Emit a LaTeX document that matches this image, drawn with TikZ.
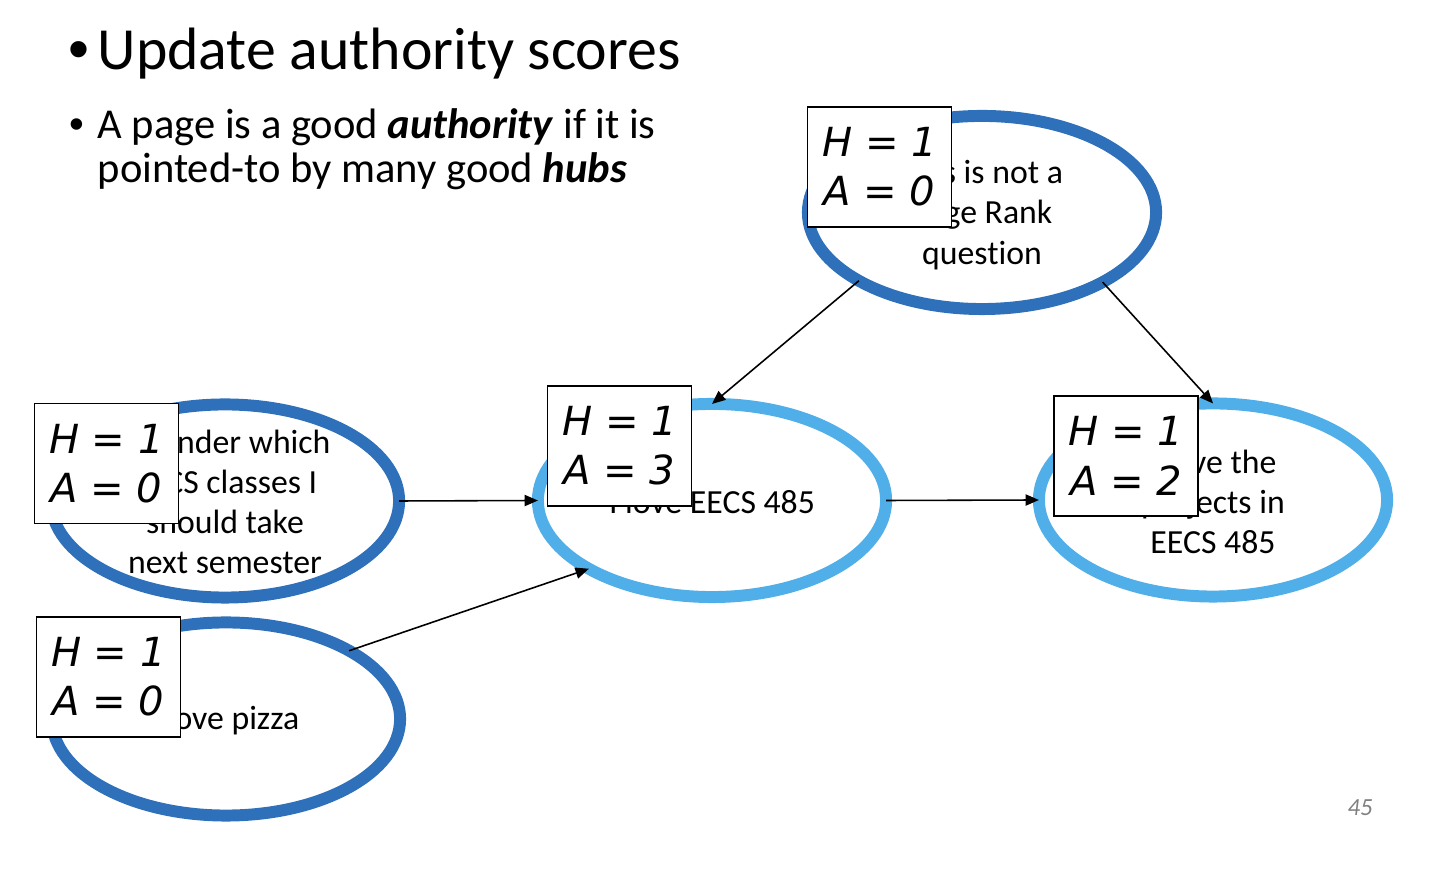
\documentclass[tikz,border=0pt]{standalone}
\usepackage{fontspec}
\setmainfont{Carlito}[Ligatures=NoCommon]
\newfontfamily\scorefont{DejaVu Sans}
\newfontfamily\bulletfont{Liberation Sans}
\usetikzlibrary{shapes.geometric,arrows.meta}
\definecolor{hubblue}{RGB}{46,112,186}
\definecolor{authblue}{RGB}{80,174,232}
\definecolor{pagegray}{RGB}{128,128,128}
\begin{document}
\begin{tikzpicture}[x=0.01cm,y=-0.01cm,
  page/.style={ellipse, minimum width=3.48cm, minimum height=1.93cm,
    inner sep=0pt, outer sep=0pt, line width=3.4pt},
  hubpage/.style={page, draw=hubblue},
  authpage/.style={page, draw=authblue},
  pagetext/.style={align=center, inner sep=0pt,
    font=\fontsize{9.6}{11.4}\selectfont},
  score/.style={draw=black, line width=0.45pt, fill=white,
    minimum width=1.44cm, minimum height=1.2cm, inner sep=0pt,
    align=center, font=\scorefont\itshape\fontsize{11.4}{14}\selectfont},
  link/.style={line width=0.45pt, -{Triangle[length=3.8pt,width=3.2pt]}},
  bulletmark/.style={anchor=base, inner sep=0pt, font=\bulletfont#1},
  linetext/.style={anchor=base west, inner sep=0pt, font=#1}
]
\useasboundingbox (0,0) rectangle (1452,874);

% heading and bullet text
\node[bulletmark={\fontsize{17}{20}\selectfont}] (b1) at (79,70) {•};
\node[linetext={\fontsize{17}{20}\selectfont}] (title) at (97,70) {Update authority scores};
\node[bulletmark={\fontsize{12}{14}\selectfont}] (b2) at (77,139) {•};
\node[linetext={\fontsize{12.1}{14}\selectfont}] (l1) at (97,139)
  {A page is a good \textbf{\textit{authority}} if it is};
\node[linetext={\fontsize{12.1}{14}\selectfont}] (l2) at (97,183)
  {pointed-to by many good \textbf{\textit{hubs}}};

% pages
\node[hubpage]  (q) at (982,212.5) {};
\node[hubpage]  (w) at (225,501) {};
\node[authpage] (l) at (712,500.5) {};
\node[authpage] (p) at (1213,500) {};
\node[hubpage]  (z) at (226,719) {};

\node[pagetext] (qt) at (982,215) {This is not a\\Page Rank\\question};
\node[pagetext] (wt) at (225,502) {I wonder which\\EECS classes I\\should take\\next semester};
\node[pagetext] (lt) at (712,502) {I love EECS 485};
\node[pagetext] (pt) at (1213,502) {I love the\\projects in\\EECS 485};
\node[pagetext] (zt) at (225,721) {I love pizza};

% hub / authority scores
\node[score] (qs) at (879.5,167) {H = 1\\A = 0};
\node[score] (ws) at (106.5,463.5) {H = 1\\A = 0};
\node[score] (ls) at (619.5,446) {H = 1\\A = 3};
\node[score] (ps) at (1126,456) {H = 1\\A = 2};
\node[score] (zs) at (108.5,677) {H = 1\\A = 0};

% links
\draw[link] (q.209.6) -- (l.north);
\draw[link] (q.330.2) -- (p.north);
\draw[link] (w.east) -- (l.west);
\draw[link] (l.east) -- (p.west);
\draw[link] (z.29.5) -- (l.209.3);

\node[font=\itshape\fontsize{7}{8}\selectfont, text=pagegray] (num) at (1360,808) {45};
\end{tikzpicture}
\end{document}
